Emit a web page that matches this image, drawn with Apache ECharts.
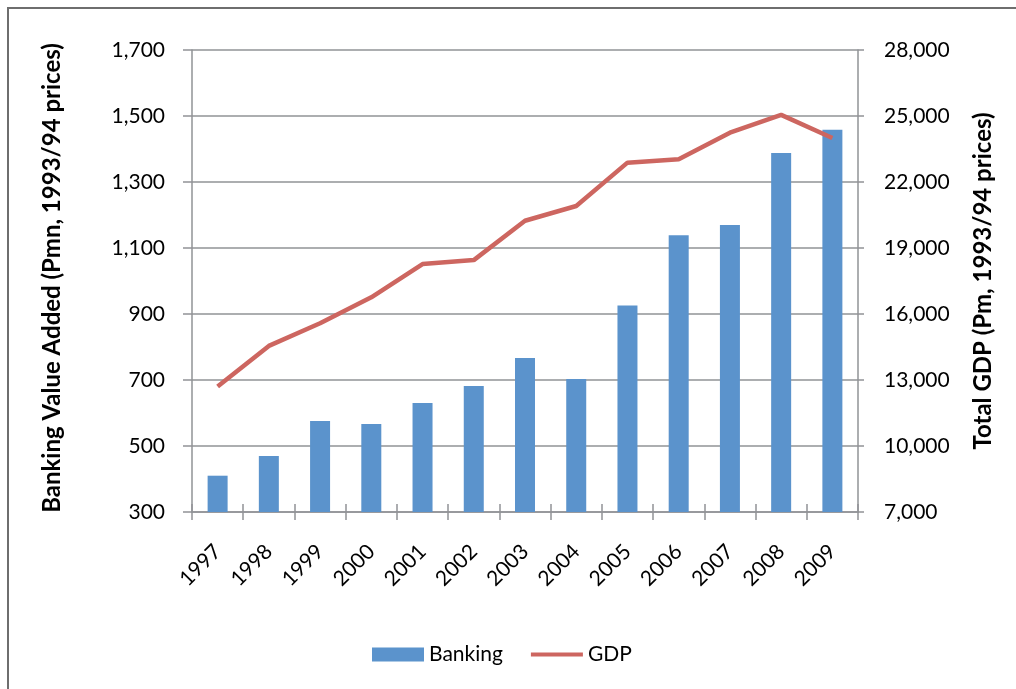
<!DOCTYPE html>
<html>
<head>
<meta charset="utf-8">
<script src="https://cdn.jsdelivr.net/npm/echarts@6/dist/echarts.min.js"></script>
<style>
html,body{margin:0;padding:0;background:#fff;}
#c{width:1016px;height:689px;}
</style>
</head>
<body>
<div id="c"></div>
<script>
const years = ['1997','1998','1999','2000','2001','2002','2003','2004','2005','2006','2007','2008','2009'];
const banking = [410, 470, 576, 567, 630, 682, 767, 703, 926, 1139, 1170, 1388, 1458];
const gdp = [12700, 14550, 15580, 16760, 18270, 18450, 20240, 20910, 22880, 23030, 24240, 25050, 24000];
const leftTitle = 'Banking Value Added (Pmn, 1993/94 prices)';
const rightTitle = 'Total GDP (Pm, 1993/94 prices)';

const FONT = 'Lato';
const GRID_C = '#919396';
const fmt = v => Number(v).toLocaleString('en-US');

const chart = echarts.init(document.getElementById('c'));
chart.setOption({
  animation: false,
  textStyle: { fontFamily: FONT },
  graphic: [{
    type: 'rect', silent: true,
    shape: { x: 8, y: 8, width: 1200, height: 900 },
    style: { fill: 'none', stroke: '#6e6e6e', lineWidth: 2 }
  }],
  grid: { left: 192, right: 158, top: 50, bottom: 177, containLabel: false },
  legend: {
    bottom: 19, left: 367,
    itemWidth: 52, itemHeight: 14, itemGap: 28,
    symbolKeepAspect: true,
    textStyle: { fontFamily: FONT, fontSize: 21, color: '#000' },
    data: [
      { name: 'Banking', icon: 'rect' },
      { name: 'GDP', icon: 'path://M0,0 L52,0 L52,4 L0,4 Z' }
    ]
  },
  xAxis: [{
    type: 'category', data: years, position: 'bottom',
    axisLine: { lineStyle: { color: GRID_C, width: 1.5 } },
    axisTick: { show: true, length: 8, lineStyle: { color: GRID_C, width: 1.5 } },
    axisLabel: { rotate: 45, margin: 36, fontFamily: FONT, fontSize: 21, color: '#000', interval: 0 }
  }, {
    type: 'category', data: years, position: 'bottom', offset: 0,
    axisLine: { show: false },
    axisTick: { show: true, inside: true, length: 8, lineStyle: { color: GRID_C, width: 1.5 } },
    axisLabel: { show: false },
    splitLine: { show: false }
  }],
  yAxis: [{
    type: 'value', min: 300, max: 1700, interval: 200, position: 'left',
    name: leftTitle, nameLocation: 'middle', nameRotate: 90, nameGap: 128,
    nameTextStyle: { fontFamily: FONT, fontSize: 24, fontWeight: 'bold', color: '#000', padding: [0, 0, 0, 6] },
    axisLine: { show: true, lineStyle: { color: GRID_C, width: 1.5 } },
    axisTick: { show: true, length: 9, lineStyle: { color: GRID_C, width: 1.5 } },
    axisLabel: { margin: 27, fontFamily: FONT, fontSize: 21, color: '#000', formatter: fmt },
    splitLine: { show: true, lineStyle: { color: GRID_C, width: 1.5 } }
  }, {
    type: 'value', min: 7000, max: 28000, interval: 3000, position: 'right',
    name: rightTitle, nameLocation: 'middle', nameRotate: 90, nameGap: 113,
    nameTextStyle: { fontFamily: FONT, fontSize: 24, fontWeight: 'bold', color: '#000' },
    axisLine: { show: true, lineStyle: { color: GRID_C, width: 1.5 } },
    axisTick: { show: true, length: 6, lineStyle: { color: GRID_C, width: 1.5 } },
    axisLabel: { margin: 26, fontFamily: FONT, fontSize: 21, color: '#000', formatter: fmt },
    splitLine: { show: false }
  }],
  series: [{
    name: 'Banking', type: 'bar', data: banking, xAxisIndex: 0, yAxisIndex: 0,
    barWidth: 20,
    itemStyle: { color: '#5b93cc' }
  }, {
    name: 'GDP', type: 'line', data: gdp, xAxisIndex: 0, yAxisIndex: 1,
    symbol: 'none', showSymbol: false,
    lineStyle: { color: '#cd6660', width: 4.5 },
    itemStyle: { color: '#cd6660' }
  }]
});
</script>
</body>
</html>
